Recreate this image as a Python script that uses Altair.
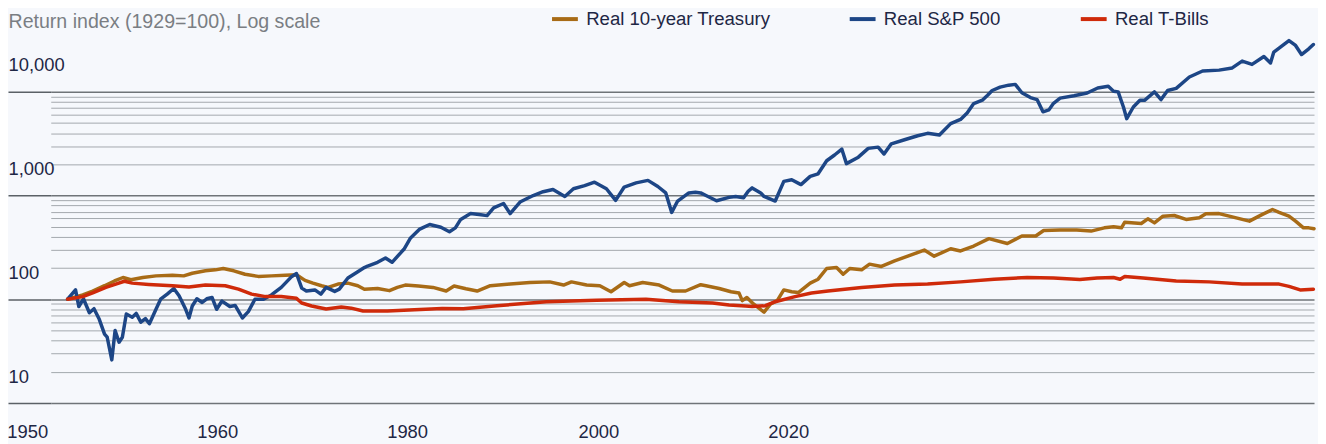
import altair as alt
import pandas as pd

FONT = "Liberation Sans"
LABEL_COLOR = "#1e2745"
TITLE_COLOR = "#7a7e83"
BG = "#f6f8fc"

series_names = ["Real 10-year Treasury", "Real S&P 500", "Real T-Bills"]
series_colors = ["#a86b16", "#1d4686", "#cf2a0a"]

spx_years = [1929.0, 1929.6, 1929.85, 1930.2, 1930.65, 1931.0, 1931.4, 1931.8, 1932.0, 1932.35,
             1932.6, 1932.9, 1933.15, 1933.45, 1933.9, 1934.2, 1934.55, 1934.9, 1935.2, 1935.7,
             1936.05, 1936.55, 1937.05, 1937.45, 1937.95, 1938.2, 1938.45, 1938.8, 1939.2, 1939.55,
             1939.95, 1940.3, 1940.7, 1941.3, 1941.7, 1942.25, 1942.7, 1943.2, 1943.85, 1944.45,
             1945.2, 1946.0, 1946.35, 1946.75, 1947.1, 1947.75, 1948.2, 1948.6, 1949.25, 1949.6,
             1950.25, 1951.0, 1951.5, 1951.75, 1952.5, 1953.1, 1953.6, 1954.3, 1954.5, 1955.0,
             1955.7, 1956.45, 1957.3, 1957.95, 1958.4, 1958.8, 1959.55, 1960.2, 1960.8, 1961.3,
             1962.05, 1962.55, 1963.3, 1964.3, 1965.05, 1965.8, 1966.7, 1967.35, 1968.2, 1968.95,
             1969.85, 1970.55, 1971.2, 1972.1, 1973.0, 1973.75, 1974.35, 1974.8, 1975.25, 1976.1,
             1976.6, 1977.0, 1977.4, 1978.2, 1979.15, 1979.65, 1980.25, 1980.6, 1980.9, 1981.55,
             1981.8, 1982.65, 1983.3, 1983.9, 1984.6, 1985.3, 1985.9, 1986.55, 1987.15, 1987.7,
             1988.05, 1988.95, 1989.7, 1990.45, 1990.9, 1991.45, 1992.45, 1993.45, 1994.2, 1995.1,
             1995.95, 1996.7, 1997.2, 1997.7, 1998.35, 1998.75, 1999.1, 1999.7, 2000.35, 2000.85,
             2001.35, 2002.0, 2002.5, 2002.95, 2003.4, 2003.75, 2004.25, 2005.3, 2006.3, 2007.1,
             2007.9, 2008.3, 2008.65, 2009.05, 2009.3, 2009.8, 2010.3, 2010.65, 2011.4, 2011.9,
             2012.4, 2013.05, 2014.05, 2015.05, 2016.3, 2017.3, 2018.05, 2018.8, 2019.7, 2020.2,
             2020.45, 2021.6, 2022.1, 2022.55, 2023.1, 2023.45]
spx_values = [100, 123, 85, 101, 74, 81, 64, 46, 43, 26,
              50, 38.5, 43, 72, 67, 73, 60, 65, 58, 80,
              100, 112, 127, 108, 80, 66, 86, 101, 93, 101,
              104, 80, 96, 85, 87, 66, 76, 100, 100, 110,
              130, 166, 177, 128, 120, 123, 112, 130, 119, 125,
              160, 184, 202, 209, 227, 250, 227, 285, 303, 390,
              475, 526, 495, 448, 488, 588, 670, 655, 640, 760,
              838, 670, 865, 1000, 1088, 1143, 980, 1163, 1245, 1345,
              1163, 898, 1208, 1325, 1400, 1222, 1060, 688, 885, 1060,
              1075, 1060, 1000, 890, 960, 980, 950, 1100, 1185, 1060,
              980, 885, 1370, 1420, 1275, 1530, 1620, 2165, 2460, 2800,
              2030, 2345, 2850, 2930, 2515, 3150, 3450, 3770, 3980, 3830,
              4940, 5420, 6260, 7700, 8300, 9270, 10300, 11100, 11600, 11800,
              9800, 8800, 8420, 6420, 6700, 7760, 8700, 9170, 9750, 10900,
              11300, 10150, 9990, 7140, 5510, 7140, 8280, 8280, 9990, 8420,
              10300, 10800, 13900, 15900, 16200, 17000, 19800, 18400, 21900, 19000,
              24200, 31200, 28000, 22900, 26000, 28600]

tsy_years = [1929.0, 1930.15, 1930.9, 1931.8, 1932.55, 1933.2, 1933.8, 1934.7, 1935.7, 1936.95,
             1937.8, 1938.45, 1939.45, 1940.2, 1940.8, 1941.6, 1942.45, 1943.45, 1944.45, 1945.5,
             1946.35, 1947.0, 1947.6, 1948.25, 1948.75, 1949.5, 1950.25, 1951.0, 1951.5, 1952.5,
             1953.4, 1954.0, 1954.6, 1955.6, 1956.7, 1957.7, 1958.3, 1959.2, 1960.05, 1961.05,
             1962.55, 1964.05, 1965.55, 1966.6, 1967.2, 1968.35, 1969.35, 1970.2, 1971.2, 1971.6,
             1972.6, 1973.85, 1974.85, 1975.85, 1977.0, 1977.4, 1978.4, 1979.3, 1979.9, 1980.15,
             1980.5, 1981.0, 1981.8, 1982.3, 1982.8, 1983.3, 1983.9, 1984.4, 1985.3, 1985.9,
             1986.55, 1987.3, 1987.8, 1988.3, 1989.2, 1989.8, 1990.7, 1991.7, 1992.7, 1993.95,
             1994.7, 1995.95, 1996.7, 1997.7, 1998.85, 2000.25, 2001.35, 2002.4, 2003.0, 2004.25,
             2005.5, 2006.6, 2007.6, 2008.3, 2008.9, 2009.15, 2010.4, 2010.9, 2011.4, 2012.05,
             2012.9, 2013.8, 2014.8, 2015.3, 2016.3, 2017.3, 2018.6, 2019.55, 2020.35, 2020.85,
             2021.6, 2022.1, 2022.7, 2023.1, 2023.5]
tsy_values = [100, 110, 120, 135, 150, 162, 154, 162, 168, 170,
              168, 178, 188, 192, 198, 188, 174, 166, 168, 170,
              172, 152, 143, 135, 130, 140, 143, 135, 125, 127,
              121, 130, 137, 134, 130, 120, 134, 126, 120, 135,
              140, 145, 147, 137, 147, 137, 135, 118, 145, 135,
              145, 137, 120, 120, 138, 135, 127, 118, 115, 97,
              104, 90, 75, 90, 97, 123, 118, 116, 143, 156,
              198, 202, 174, 198, 192, 218, 207, 234, 260, 298,
              260, 307, 292, 326, 384, 345, 407, 407, 460, 465,
              465, 454, 488, 500, 488, 553, 537, 596, 545, 632,
              642, 588, 610, 667, 670, 622, 566, 655, 733, 688,
              632, 566, 488, 488, 478]

tb_years = [1929.0, 1930.15, 1930.9, 1931.9, 1932.65, 1933.3, 1933.9, 1935.15, 1936.95, 1938.2,
            1939.45, 1940.95, 1941.95, 1942.95, 1944.0, 1945.2, 1946.35, 1946.75, 1947.5, 1948.6,
            1949.75, 1950.5, 1951.4, 1953.25, 1955.3, 1957.4, 1959.0, 1961.55, 1965.3, 1969.1,
            1972.85, 1975.35, 1977.9, 1979.15, 1980.4, 1980.9, 1981.9, 1982.65, 1984.15, 1985.4,
            1986.65, 1989.2, 1991.7, 1994.2, 1996.7, 1999.25, 2001.75, 2003.75, 2005.75, 2007.05,
            2008.3, 2008.8, 2009.15, 2010.55, 2013.05, 2015.55, 2018.05, 2020.85, 2021.6, 2022.45,
            2023.45]
tb_values = [100, 106, 115, 130, 140, 149, 143, 139, 135, 131,
             137, 135, 125, 112, 106, 106, 102, 92, 86, 80.5,
             84, 82, 77, 77, 79, 81.5, 81, 86.6, 94.6, 97.6,
             100, 94.6, 92, 88, 86, 85, 86.6, 94.6, 106, 115,
             120, 130, 137, 140, 147, 156, 162, 160, 155, 160,
             162, 156, 166, 160, 150, 147, 140, 140, 133, 123,
             125]

rows = []
for name, yrs, vals in zip(series_names,
                           [tsy_years, spx_years, tb_years],
                           [tsy_values, spx_values, tb_values]):
    rows += [{"series": name, "year": y, "value": v} for y, v in zip(yrs, vals)]
df = pd.DataFrame(rows)

y_major = [10, 100, 1000, 10000]
y_grid = [m * 10 ** k for k in range(1, 4) for m in range(1, 10)] + [10000]
major_test = "indexof([10,100,1000,10000], datum.value) >= 0"
y_label_expr = f"({major_test}) ? format(datum.value, ',') : ''"

x_tick_years = [1928.2, 1942.6, 1957.0, 1971.5, 1985.9]
x_tick_labels = ["1950", "1960", "1980", "2000", "2020"]
x_label_expr = "''"
for yv, lab in reversed(list(zip(x_tick_years, x_tick_labels))):
    x_label_expr = f"abs(datum.value - {yv}) < 0.01 ? '{lab}' : ({x_label_expr})"

chart = alt.Chart(df).mark_line(strokeWidth=3.5, strokeJoin="round", strokeCap="round").encode(
    x=alt.X("year:Q",
            scale=alt.Scale(domain=[1927.72, 2023.5], nice=False, zero=False),
            axis=alt.Axis(values=x_tick_years, labelExpr=x_label_expr, title=None,
                          grid=False, ticks=False, domain=False, labelOffset=-30,
                          labelPadding=20, labelFontSize=18.5, labelFont=FONT,
                          labelColor=LABEL_COLOR, labelFlush=False, labelOverlap=False,
                          labelBaseline="top")),
    y=alt.Y("value:Q",
            scale=alt.Scale(type="log", domain=[10, 38450], nice=False),
            axis=alt.Axis(values=y_grid, labelExpr=y_label_expr,
                          title="Return index (1929=100), Log scale", titleAngle=0,
                          titleAlign="left", titleBaseline="alphabetic", titleX=-43, titleY=-4,
                          titleFontSize=19.7, titleFontWeight="normal", titleColor=TITLE_COLOR,
                          titleFont=FONT,
                          labelAlign="left", labelPadding=0, labelOffset=-27,
                          labelBaseline="middle", labelFontSize=18.5, labelFont=FONT,
                          labelColor=LABEL_COLOR, labelOverlap=False, labelFlush=False,
                          tickSize=43,
                          tickColor={"condition": {"test": major_test, "value": "#5b6166"},
                                     "value": "transparent"},
                          tickWidth=1.5,
                          grid=True,
                          gridColor={"condition": {"test": major_test, "value": "#6f7478"},
                                     "value": "#a3a8ad"},
                          gridWidth={"condition": {"test": major_test, "value": 1.5},
                                     "value": 1},
                          domain=False)),
    color=alt.Color("series:N",
                    scale=alt.Scale(domain=series_names, range=series_colors),
                    legend=alt.Legend(title=None, orient="none", legendX=508, legendY=-22,
                                      direction="horizontal", symbolType="M-2,0H2",
                                      symbolSize=169, symbolStrokeWidth=4,
                                      labelFontSize=18.7, labelFont=FONT,
                                      labelColor=LABEL_COLOR, columnPadding=71.5,
                                      labelOffset=12, padding=0, labelLimit=400)),
).properties(
    width=1271, height=374,
    autosize=alt.AutoSizeParams(type="none"),
    padding={"left": 43, "top": 22, "right": 4, "bottom": 40},
    background=BG,
).configure_view(strokeWidth=0)

chart.save("out.html", embed_options={"renderer": "svg", "actions": False})
